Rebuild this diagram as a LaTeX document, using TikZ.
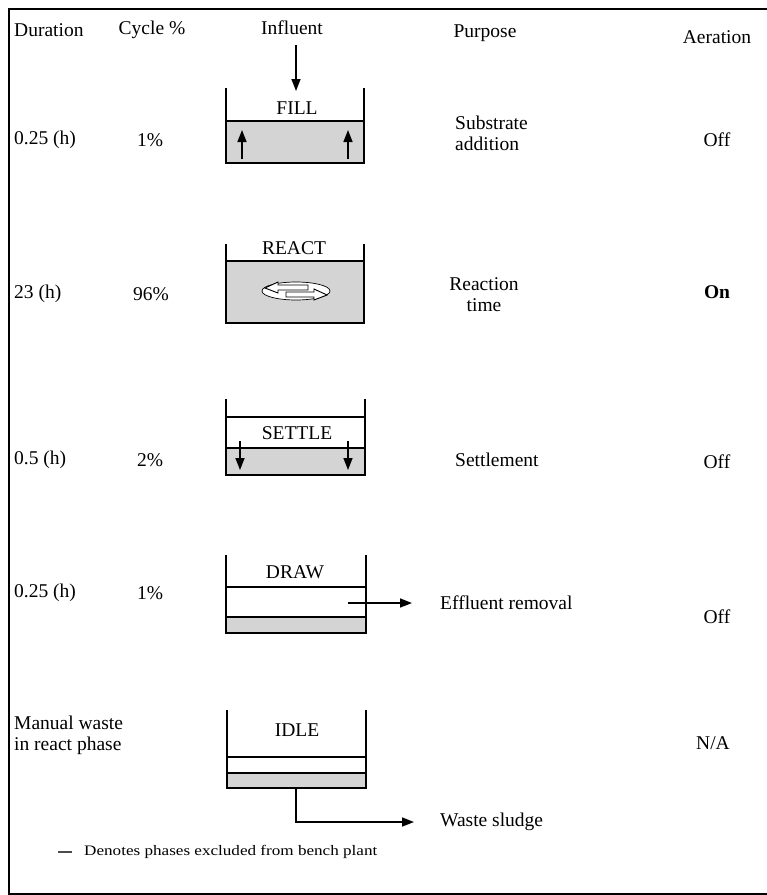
\documentclass[tikz,border=0pt]{standalone}
\usepackage{fontspec}
\setmainfont{Liberation Serif}
\usepackage{graphicx}
\usetikzlibrary{arrows.meta}
\begin{document}
\begin{tikzpicture}[x=1pt,y=-1pt,
  lbl/.style={font=\fontsize{19.5}{21}\selectfont, inner sep=0pt},
  tanklbl/.style={font=\fontsize{19.5}{21}\selectfont, inner sep=0pt},
  wall/.style={line width=1.8pt},
  level/.style={line width=1.6pt},
  arr/.style={line width=1.6pt,-{Triangle[length=12pt,width=9pt]}},
  sludge/.style={fill=black!17},
  stir/.style={line width=0.9pt, fill=white}
]
\useasboundingbox (0,0) rectangle (767,895);
% frame
\draw[line width=1.5pt] (767,9) -- (9,9) -- (9,894) -- (767,894);

% headers
\node[lbl, anchor=west] (hdur) at (14,30) {Duration};
\node[lbl] (hcyc) at (152,30) {Cycle \%};
\node[lbl] (hinf) at (292,28) {Influent};
\node[lbl] (hpur) at (485,33) {Purpose};
\node[lbl] (haer) at (717,37) {Aeration};

% ---- FILL ----
\fill[sludge] (226,121) rectangle (364,163);
\draw[wall] (226,88) -- (226,163) -- (364,163) -- (364,88);
\draw[level] (226,121) -- (364,121);
\node[tanklbl] (fill) at (297,108) {FILL};
\coordinate (inflowTop) at (296,45);
\coordinate (inflowEnd) at (296,91);
\draw[arr] (inflowTop) -- (inflowEnd);
\coordinate (fillL0) at (242,159); \coordinate (fillL1) at (242,130);
\coordinate (fillR0) at (348,159); \coordinate (fillR1) at (348,130);
\draw[arr] (fillL0) -- (fillL1);
\draw[arr] (fillR0) -- (fillR1);
\node[lbl, anchor=west] (d1) at (14,140) {0.25 (h)};
\node[lbl] (c1) at (150,140) {1\%};
\node[lbl, anchor=west, align=left] (p1) at (455,133) {Substrate\\addition};
\node[lbl] (a1) at (717,140) {Off};

% ---- REACT ----
\fill[sludge] (226,261) rectangle (364,323);
\draw[wall] (226,244) -- (226,323) -- (364,323) -- (364,244);
\draw[level] (226,261) -- (364,261);
\node[tanklbl] (react) at (294,248) {REACT};
\begin{scope}[shift={(296,291)}]
  \draw[line width=0.7pt, fill=white] (0,0) ellipse [x radius=34, y radius=9];
  \draw[stir] (12,-6) -- (-18,-6) -- (-18,-9) -- (-31,-3) -- (-18,2) -- (-18,-1) -- (12,-1) -- cycle;
  \draw[stir] (-10,1) -- (18,1) -- (18,-2) -- (31,4) -- (18,9) -- (18,6) -- (-10,6) -- cycle;
\end{scope}
\node[lbl, anchor=west] (d2) at (14,294) {23 (h)};
\node[lbl] (c2) at (151,294) {96\%};
\node[lbl, align=center] (p2) at (484,295) {Reaction\\time};
\node[lbl, font=\fontsize{19.5}{21}\selectfont\bfseries] (a2) at (717,292) {On};

% ---- SETTLE ----
\fill[sludge] (226,448) rectangle (365,475);
\draw[wall] (226,399) -- (226,475) -- (365,475) -- (365,399);
\draw[level] (226,417) -- (365,417);
\draw[level] (226,448) -- (365,448);
\node[tanklbl] (settle) at (297,433) {SETTLE};
\coordinate (setL0) at (240,441); \coordinate (setL1) at (240,470);
\coordinate (setR0) at (348,441); \coordinate (setR1) at (348,470);
\draw[arr] (setL0) -- (setL1);
\draw[arr] (setR0) -- (setR1);
\node[lbl, anchor=west] (d3) at (14,460) {0.5 (h)};
\node[lbl] (c3) at (150,460) {2\%};
\node[lbl, anchor=west] (p3) at (455,460) {Settlement};
\node[lbl] (a3) at (717,462) {Off};

% ---- DRAW ----
\fill[sludge] (226,617) rectangle (366,633);
\draw[wall] (226,555) -- (226,633) -- (366,633) -- (366,555);
\draw[level] (226,587) -- (366,587);
\draw[level] (226,617) -- (366,617);
\node[tanklbl] (draw) at (295,572) {DRAW};
\node[lbl, anchor=west] (p4) at (440,603) {Effluent removal};
\coordinate (drawOut) at (348,603);
\coordinate (drawTip) at (412,603);
\draw[arr] (drawOut) -- (drawTip);
\node[lbl, anchor=west] (d4) at (14,593) {0.25 (h)};
\node[lbl] (c4) at (150,593) {1\%};
\node[lbl] (a4) at (717,617) {Off};

% ---- IDLE ----
\fill[sludge] (227,773) rectangle (366,788);
\draw[wall] (227,710) -- (227,788) -- (366,788) -- (366,710);
\draw[level] (227,757) -- (366,757);
\draw[level] (227,773) -- (366,773);
\node[tanklbl] (idle) at (297,730) {IDLE};
\node[lbl, anchor=west, align=left] (d5) at (14,735) {Manual waste\\in react phase};
\node[lbl] (a5) at (713,743) {N/A};
\node[lbl, anchor=west] (p5) at (440,822) {Waste sludge};
\coordinate (idleOut) at (296,788);
\coordinate (idleBend) at (296,822);
\coordinate (idleTip) at (414,822);
\draw[arr] (idleOut) -- (idleBend) -- (idleTip);

% legend
\coordinate (legA) at (58,852);
\coordinate (legB) at (72,852);
\draw[line width=1.4pt, black!70] (legA) -- (legB);
\node[anchor=west, inner sep=0pt, font=\fontsize{14.5}{16}\selectfont] (legend) at (84,852) {\scalebox{1.18}[1]{Denotes phases excluded from bench plant}};
\end{tikzpicture}
\end{document}
